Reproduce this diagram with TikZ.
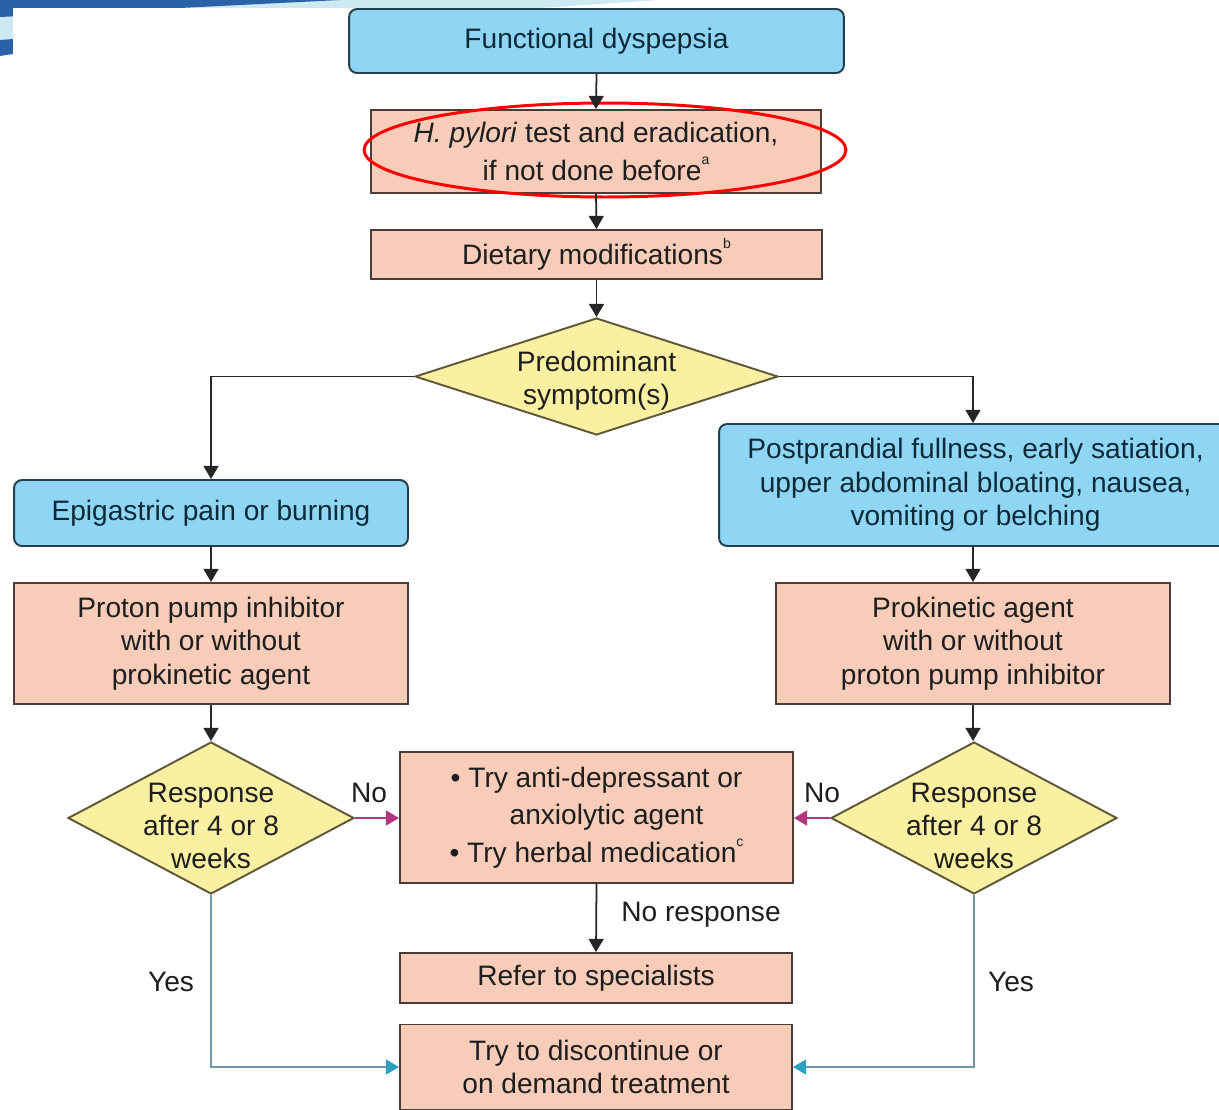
\documentclass[tikz,border=0pt]{standalone}
\usepackage{fontspec}
\setmainfont{Liberation Sans}
\usetikzlibrary{shapes.geometric,arrows.meta}
\definecolor{boxblue}{HTML}{8FD6F4}
\definecolor{blueedge}{HTML}{22404E}
\definecolor{boxsalmon}{HTML}{F7CCB8}
\definecolor{saledge}{HTML}{4A3C36}
\definecolor{diayellow}{HTML}{FAF0A2}
\definecolor{diaedge}{HTML}{5E5838}
\definecolor{txtcol}{HTML}{1E1E1E}
\definecolor{bluetxt}{HTML}{0E2A38}
\definecolor{noarrow}{HTML}{B3357F}
\definecolor{yesline}{HTML}{6F97A6}
\definecolor{yeshead}{HTML}{2D9EC4}
\definecolor{stripedark}{HTML}{2A62A8}
\definecolor{stripelight}{HTML}{CDE9F2}
\newcommand{\fnsup}[1]{\raisebox{1.1ex}{\fontsize{8}{8}\selectfont #1}}
\begin{document}
\begin{tikzpicture}[x=0.02cm,y=-0.02cm,
  every node/.style={font=\fontsize{16}{19}\selectfont, text=txtcol},
  bluebox/.style={draw=blueedge, line width=1.1pt, fill=boxblue, rounded corners=0.16cm, align=center, inner sep=0pt, text=bluetxt},
  salbox/.style={draw=saledge, line width=1.1pt, fill=boxsalmon, align=center, inner sep=0pt},
  diabox/.style={draw=diaedge, line width=1.1pt, fill=diayellow, diamond, inner sep=0pt},
  txtlbl/.style={align=center, inner sep=0pt},
  arr/.style={draw=black!85, line width=1pt, -{Triangle[length=7.5pt,width=8.5pt]}},
  noarr/.style={draw=noarrow, line width=1pt, -{Triangle[length=7.5pt,width=8.5pt]}},
  yesarr/.style={draw=yesline, line width=1pt, -{Triangle[length=7.5pt,width=8.5pt,color=yeshead]}}
]
\useasboundingbox (0,0) rectangle (1219,1109);
% slide decoration
\fill[stripelight] (0,0) -- (660,0) -- (0,44) -- cycle;
\fill[stripedark] (0,0) -- (340,0) -- (0,17) -- cycle;
\fill[stripedark] (0,40) -- (13,39) -- (13,54) -- (0,56) -- cycle;
\fill[white] (13,8) rectangle (1240,1120);

% nodes
\node[bluebox, minimum width=9.9cm, minimum height=1.28cm] (fd) at (596.5,41) {Functional dyspepsia};
\node[salbox, minimum width=9cm, minimum height=1.66cm, font=\fontsize{16}{21.5}\selectfont] (hp) at (596,151.5) {\textit{H. pylori} test and eradication,\\if not done before\fnsup{a}};
\node[salbox, minimum width=9.02cm, minimum height=0.98cm] (diet) at (596.5,254.5) {\raisebox{-0.1cm}{Dietary modifications\fnsup{b}}};
\node[diabox, minimum width=7.26cm, minimum height=2.34cm] (pred) at (596.5,376.5) {};
\node[txtlbl] (predt) at ([yshift=-0.08cm]pred.center) {Predominant\\symptom(s)};
\node[bluebox, minimum width=7.88cm, minimum height=1.32cm] (epi) at (211,513) {Epigastric pain or burning};
\node[bluebox, minimum width=10.26cm, minimum height=2.44cm] (post) at (975.5,485) {Postprandial fullness, early satiation,\\upper abdominal bloating, nausea,\\vomiting or belching};
\node[salbox, minimum width=7.88cm, minimum height=2.42cm] (ppi) at (211,643.5) {Proton pump inhibitor\\with or without\\prokinetic agent};
\node[salbox, minimum width=7.88cm, minimum height=2.42cm] (prok) at (973,643.5) {Prokinetic agent\\with or without\\proton pump inhibitor};
\node[diabox, minimum width=5.72cm, minimum height=3.04cm] (ldia) at (211,818) {};
\node[txtlbl] (ldiat) at ([yshift=-0.16cm]ldia.center) {Response\\after 4 or 8\\weeks};
\node[diabox, minimum width=5.72cm, minimum height=3.04cm] (rdia) at (974,818) {};
\node[txtlbl] (rdiat) at ([yshift=-0.16cm]rdia.center) {Response\\after 4 or 8\\weeks};
\node[salbox, minimum width=7.86cm, minimum height=2.62cm, font=\fontsize{16}{21.5}\selectfont] (mid) at (596.5,817.5) {\textbullet\ Try anti-depressant or\\\hspace*{0.4cm}anxiolytic agent\\\textbullet\ Try herbal medication\fnsup{c}};
\node[salbox, minimum width=7.84cm, minimum height=1cm] (refer) at (596,978) {Refer to specialists};
\node[salbox, minimum width=7.84cm, minimum height=1.7cm] (disc) at (596,1067) {Try to discontinue or\\on demand treatment};

% highlight ellipse
\node[draw=red, line width=1.7pt, ellipse, minimum width=9.64cm, minimum height=1.88cm, inner sep=0pt] (hl) at (605,150) {};

% connectors
\draw[arr] (fd.south) -- (hp.north);
\draw[arr] (hp.south) -- (diet.north);
\draw[arr] (diet.south) -- (pred.north);
\draw[arr] (pred.west) -| (epi.north);
\draw[arr] (pred.east) -| (prok.north |- post.north);
\draw[arr] (epi.south) -- (ppi.north);
\draw[arr] (prok.north |- post.south) -- (prok.north);
\draw[arr] (ppi.south) -- (ldia.north);
\draw[arr] (prok.south) -- (prok.south |- rdia.north);
\draw[noarr] (ldia.east) -- (ldia.east -| mid.west);
\draw[noarr] (rdia.west) -- (rdia.west -| mid.east);
\draw[arr] (mid.south) -- (refer.north);
\draw[yesarr] (ldia.south) |- (disc.west);
\draw[yesarr] (rdia.south) |- (disc.east);

% labels
\node[txtlbl] (no1) at (369,793) {No};
\node[txtlbl] (no2) at (822,793) {No};
\node[txtlbl] (nores) at (701,915) {No response};
\node[txtlbl] (yes1) at (171,982) {Yes};
\node[txtlbl] (yes2) at (1011,982) {Yes};
\end{tikzpicture}
\end{document}
